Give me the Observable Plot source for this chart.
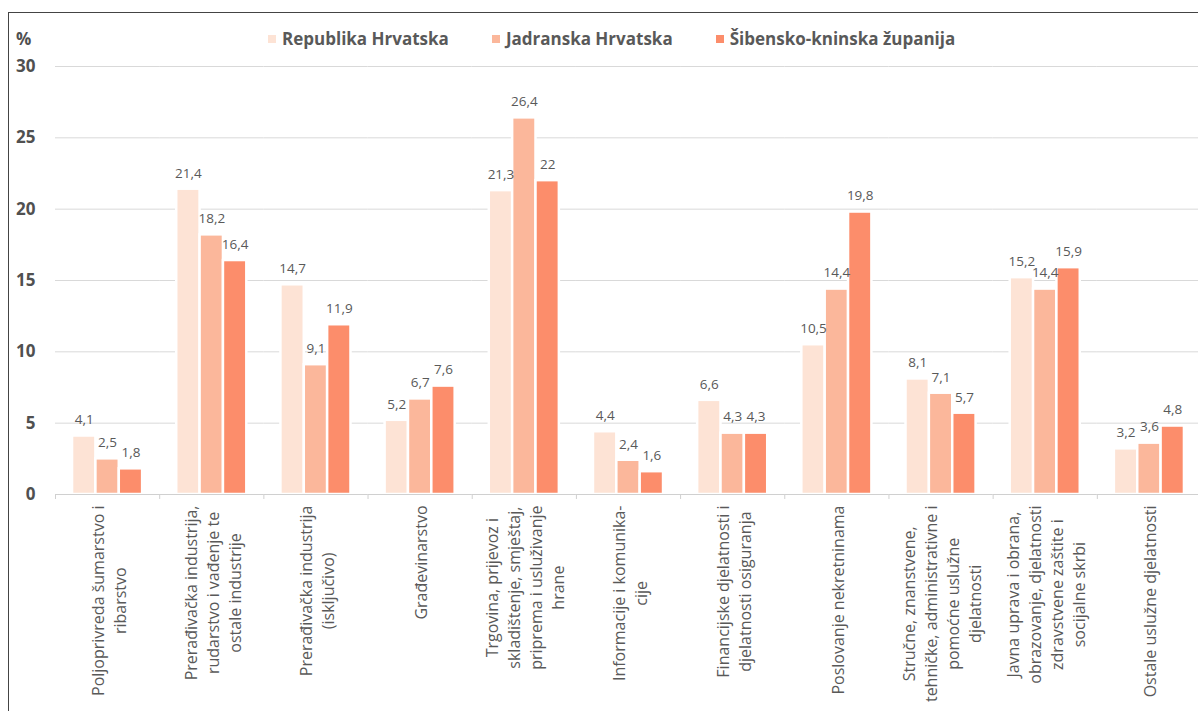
<!DOCTYPE html>
<html>
<head>
<meta charset="utf-8">
<script src="https://cdn.jsdelivr.net/npm/d3@7"></script>
<script src="https://cdn.jsdelivr.net/npm/@observablehq/plot@0.6"></script>
<style>
  html, body { margin: 0; padding: 0; background: #fff; width: 1198px; height: 711px; overflow: hidden; }
  #frame { position: absolute; left: 8px; top: 12px; width: 1190px; height: 699px; border-left: 1px solid #444; border-top: 1px solid #444; overflow: hidden; background: #fff; font-family: "Open Sans", sans-serif; }
  #header { position: relative; height: 40px; }
  #pct { position: absolute; left: 7px; top: 14px; font-size: 17px; font-weight: bold; color: #505050; }
  #legend { position: absolute; left: 259px; top: 15px; display: flex; align-items: center; }
  .item { display: flex; align-items: center; margin-right: 43px; font-size: 17px; font-weight: bold; color: #595959; line-height: 22px; }
  .sw { width: 8px; height: 8px; margin-right: 6px; }
  svg { display: block; overflow: hidden; }
</style>
</head>
<body>
<div id="frame">
  <div id="header"><span id="pct">%</span><div id="legend"></div></div>
  <div id="chart"></div>
</div>
<script>
const categories = [
  "Poljoprivreda šumarstvo i\nribarstvo",
  "Prerađivačka industrija,\nrudarstvo i vađenje te\nostale industrije",
  "Prerađivačka industrija\n(isključivo)",
  "Građevinarstvo",
  "Trgovina, prijevoz i\nskladištenje, smještaj,\npriprema i usluživanje\nhrane",
  "Informacije i komunika-\ncije",
  "Financijske djelatnosti i\ndjelatnosti osiguranja",
  "Poslovanje nekretninama",
  "Stručne, znanstvene,\ntehničke, administrativne i\npomoćne uslužne\ndjelatnosti",
  "Javna uprava i obrana,\nobrazovanje, djelatnosti\nzdravstvene zaštite i\nsocijalne skrbi",
  "Ostale uslužne djelatnosti"
];
const series = ["Republika Hrvatska", "Jadranska Hrvatska", "Šibensko-kninska županija"];
const republikaHrvatska = [4.1, 21.4, 14.7, 5.2, 21.3, 4.4, 6.6, 10.5, 8.1, 15.2, 3.2];
const jadranskaHrvatska = [2.5, 18.2, 9.1, 6.7, 26.4, 2.4, 4.3, 14.4, 7.1, 14.4, 3.6];
const sibenskoKninska = [1.8, 16.4, 11.9, 7.6, 22, 1.6, 4.3, 19.8, 5.7, 15.9, 4.8];
const colors = ["#FDE3D5", "#FBB79B", "#FC8D6B"];
const yTicks = [0, 5, 10, 15, 20, 25, 30];

const seriesValues = [republikaHrvatska, jadranskaHrvatska, sibenskoKninska];
const data = categories.flatMap((cat, i) =>
  series.map((s, j) => ({cat, series: s, value: seriesValues[j][i]}))
);
const fmt = v => String(v).replace(".", ",");

// legend
const legend = document.getElementById("legend");
series.forEach((s, j) => {
  const it = document.createElement("div");
  it.className = "item";
  it.innerHTML = `<span class="sw" style="background:${colors[j]}"></span><span>${s}</span>`;
  legend.appendChild(it);
});

// layout constants
const W = 1189, H = 658, mL = 46, mR = -3, mT = 13, mB = 217;
const xPadOuter = 0.73;
const facetStep = (W - mL - mR) / categories.length;
const xStep = facetStep / (series.length + 2 * xPadOuter);
const edgeDx = -(xStep * xPadOuter + xStep / 2);

// measure category label half-lengths
const labelSize = 16;
const ctx = document.createElement("canvas").getContext("2d");
ctx.font = `${labelSize}px 'Open Sans'`;
const halfLen = categories.map(c => Math.max(...c.split("\n").map(l => ctx.measureText(l).width)) / 2);

const labelMarks = categories.map((c, i) =>
  Plot.text([c], {
    fx: d => d, text: d => d, frameAnchor: "bottom", rotate: -90,
    textAnchor: "middle", lineAnchor: "middle", lineHeight: 1.375,
    dy: 11 + halfLen[i], fontSize: labelSize, fill: "#595959"
  })
);

const chart = Plot.plot({
  width: W, height: H, marginLeft: mL, marginRight: mR, marginTop: mT, marginBottom: mB,
  fx: {domain: categories, padding: 0, round: false, axis: null, label: null},
  x: {domain: series, paddingInner: 0, paddingOuter: xPadOuter, round: false, axis: null},
  y: {domain: [0, 30]},
  color: {domain: series, range: colors},
  style: {fontFamily: "'Open Sans', sans-serif", overflow: "hidden", background: "transparent"},
  marks: [
    Plot.ruleY(yTicks.slice(1), {stroke: "#d9d9d9", strokeWidth: 1}),
    Plot.barY(data, {fx: "cat", x: "series", y: "value", fill: "series", stroke: "white", strokeWidth: 2.5}),
    Plot.ruleY([0], {stroke: "#d0d0d0", strokeWidth: 1}),
    Plot.ruleX(categories, {fx: d => d, x: () => series[0], y1: 0, y2: -0.35, dx: edgeDx, stroke: "#d0d0d0"}),
    Plot.text(data, {fx: "cat", x: "series", y: "value", text: d => fmt(d.value), dy: -16, fill: "#595959", fontSize: 13.5}),
    ...labelMarks,
    Plot.axisY({ticks: yTicks, tickSize: 0, tickPadding: 20, fontSize: 17, fontWeight: "bold", color: "#505050", label: null})
  ]
});
document.getElementById("chart").appendChild(chart);
</script>
</body>
</html>
